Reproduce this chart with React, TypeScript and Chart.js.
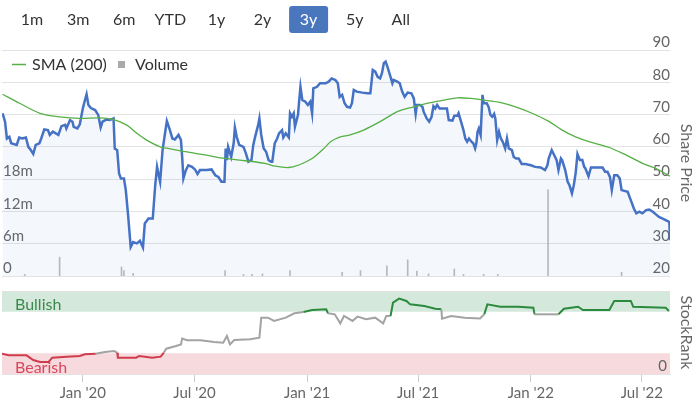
import React, { useEffect, useRef } from 'react';
import { Chart, registerables } from 'chart.js';

Chart.register(...registerables);

const FONT = 'Lato, "Open Sans", sans-serif';

// Range selector
const rangeButtons = ['1m', '3m', '6m', 'YTD', '1y', '2y', '3y', '5y', 'All'];
const selectedRange = '3y';

// X axis (days since 1 Jan 2020)
const xMinDay = -132;
const xMaxDay = 958;
const xTickDays = [0, 182, 366, 547, 731, 912];
const xTickLabels = ["Jan '20", "Jul '20", "Jan '21", "Jul '21", "Jan '22", "Jul '22"];

// Share price
const priceDays = [
  -131, -127, -124, -120, -117, -108, -104, -99, -93, -89, -85, -81, -77, -71, -68, -63, -57, -54, -49, -40,
  -35, -29, -27, -21, -17, -15, -9, -5, 0, 2, 6, 9, 13, 20, 25, 29, 32, 39, 44, 50,
  52, 56, 59, 62, 67, 70, 74, 78, 82, 88, 93, 98, 101, 107, 114, 118, 121, 126, 130, 134,
  137, 142, 146, 150, 156, 160, 162, 164, 168, 172, 178, 183, 187, 191, 202, 210, 216, 221, 226, 231,
  233, 235, 237, 242, 246, 248, 251, 255, 262, 266, 270, 275, 278, 281, 286, 288, 291, 295, 299, 303,
  307, 309, 313, 317, 320, 325, 327, 331, 336, 338, 341, 344, 346, 351, 353, 355, 358, 363, 367, 371,
  374, 376, 382, 387, 396, 401, 406, 412, 416, 419, 423, 427, 431, 436, 439, 442, 447, 456, 464, 469,
  473, 477, 481, 485, 488, 491, 494, 497, 501, 505, 507, 513, 517, 521, 525, 530, 536, 540, 543, 545,
  550, 554, 556, 561, 565, 569, 572, 575, 578, 582, 589, 594, 597, 603, 606, 611, 613, 617, 621, 624,
  627, 630, 634, 637, 640, 642, 644, 646, 649, 652, 654, 659, 662, 665, 668, 671, 673, 676, 679, 682,
  685, 689, 692, 695, 700, 703, 707, 711, 716, 722, 731, 738, 747, 754, 758, 760, 765, 769, 773, 776,
  780, 782, 787, 791, 794, 798, 801, 804, 807, 811, 815, 818, 820, 825, 829, 837, 848, 852, 856, 860,
  863, 867, 872, 876, 879, 889, 892, 896, 899, 903, 908, 913, 919, 924, 930, 935, 940, 946, 951, 956,
  957, 958,
];
const priceValues = [
  70.4, 67.8, 62.6, 63.1, 61.1, 60.6, 62.9, 62.6, 62.9, 60.0, 59.0, 57.8, 60.6, 61.1, 62.6, 65.4, 65.2, 63.7, 64.7, 63.7,
  66.4, 66.8, 65.7, 68.3, 67.8, 66.2, 65.7, 67.0, 72.0, 73.5, 76.3, 73.0, 72.0, 71.4, 69.9, 66.0, 67.8, 68.5, 68.3, 68.8,
  59.5, 59.0, 51.8, 50.2, 50.2, 46.6, 38.3, 29.0, 30.5, 30.1, 30.9, 28.8, 36.3, 37.8, 37.8, 48.1, 53.8, 49.2, 59.0, 64.2,
  68.0, 65.2, 62.6, 62.3, 63.7, 62.1, 56.9, 50.2, 52.8, 54.3, 53.8, 53.0, 51.6, 52.8, 52.8, 53.0, 51.2, 50.7, 49.2, 49.2,
  59.5, 55.9, 60.0, 56.9, 61.1, 66.0, 63.1, 60.6, 60.0, 58.0, 55.4, 55.9, 60.6, 63.1, 66.8, 68.8, 63.7, 59.5, 58.5, 55.9,
  55.4, 55.4, 61.1, 62.6, 64.2, 65.2, 62.9, 64.2, 62.9, 70.4, 69.3, 70.4, 66.2, 69.9, 74.5, 78.6, 74.5, 74.0, 73.0, 74.0,
  70.4, 78.1, 78.6, 79.7, 79.7, 80.2, 81.2, 80.7, 79.7, 75.5, 76.1, 73.5, 72.4, 72.2, 73.5, 77.6, 77.1, 76.8, 76.6, 76.6,
  83.8, 83.3, 81.7, 81.2, 82.8, 85.9, 86.4, 84.8, 82.3, 79.7, 80.7, 80.2, 79.7, 77.1, 75.5, 76.8, 76.6, 75.0, 70.2, 73.0,
  73.0, 72.4, 70.9, 68.8, 67.8, 69.3, 72.6, 71.9, 73.0, 71.9, 71.9, 71.9, 68.3, 68.1, 69.6, 69.6, 70.4, 67.8, 65.2, 62.6,
  61.6, 62.6, 61.6, 61.1, 59.5, 61.1, 64.7, 65.7, 63.7, 76.1, 73.5, 73.5, 72.4, 69.9, 69.3, 70.2, 68.8, 62.1, 64.7, 62.6,
  61.6, 59.5, 62.6, 59.5, 59.0, 56.9, 56.4, 56.4, 54.7, 54.7, 54.3, 53.8, 53.6, 52.8, 54.3, 56.4, 59.0, 57.5, 55.9, 52.8,
  56.4, 55.9, 52.8, 49.2, 48.1, 45.6, 48.1, 51.8, 57.8, 55.9, 55.9, 53.8, 53.3, 50.9, 53.6, 53.6, 53.6, 52.3, 52.3, 50.7,
  46.6, 51.2, 51.2, 50.2, 46.6, 46.1, 44.5, 42.5, 40.9, 39.4, 39.9, 39.4, 40.4, 40.6, 39.9, 39.1, 38.3, 37.8, 37.3, 36.8,
  36.5, 31.1,
];

// 200-day simple moving average
const smaDays = [
  -131, -103, -70, -38, -5, 28, 49, 71, 88, 104, 126, 137, 167, 199, 232, 265, 297, 314, 336, 351,
  374, 396, 404, 420, 436, 458, 485, 513, 540, 567, 589, 611, 633, 654, 682, 706, 733, 761, 782, 804,
  826, 859, 886, 913, 935, 958,
];
const smaValues = [
  76.3, 73.5, 70.4, 69.3, 68.8, 69.0, 68.5, 66.8, 64.2, 62.1, 60.0, 59.6, 58.5, 57.5, 56.4, 55.7, 54.9, 54.0, 53.6, 54.3,
  56.4, 60.0, 61.6, 63.1, 63.7, 65.2, 67.8, 70.9, 72.4, 73.7, 74.5, 75.2, 75.0, 74.5, 73.7, 72.4, 70.4, 67.8, 65.2, 63.1,
  61.6, 59.8, 57.5, 54.9, 53.3, 50.9,
];

// Volume (millions of shares)
const volumeDays = [-95, -38, 63, 67, 82, 232, 262, 276, 293, 338, 423, 453, 496, 530, 545, 564, 606, 621, 654, 677, 759, 879];
const volumeValues = [0.3, 3.5, 1.7, 1.0, 0.5, 1.0, 0.3, 0.3, 0.4, 1.0, 0.7, 1.0, 1.9, 3.0, 0.9, 0.4, 1.3, 0.3, 0.3, 0.3, 16.0, 0.7];

// StockRank
const rankDays = [
  -132, -121, -92, -81, -70, -56, -50, -26, -5, 3, 21, 36, 51, 56, 57, 87, 92, 113, 127, 132,
  136, 152, 160, 162, 170, 192, 214, 229, 235, 240, 247, 273, 288, 291, 302, 312, 331, 345, 360, 374,
  397, 400, 411, 420, 426, 440, 448, 462, 477, 490, 495, 502, 506, 516, 528, 534, 557, 575, 585, 586,
  601, 623, 648, 655, 660, 681, 710, 735, 737, 776, 785, 808, 816, 859, 867, 894, 898, 951, 956,
];
const rankValues = [
  24.5, 22.5, 22.5, 16.9, 14.5, 14.5, 19.7, 20.9, 21.7, 23.7, 24.5, 26.5, 27.7, 25.7, 19.7, 19.7, 21.7, 19.7, 20.9, 25.7,
  30.5, 33.7, 35.7, 42.6, 40.6, 40.6, 38.6, 37.8, 45.8, 35.7, 41.0, 41.8, 43.8, 67.9, 67.9, 63.9, 67.9, 73.1, 74.7, 77.1,
  77.9, 73.1, 71.9, 61.0, 69.9, 63.9, 69.1, 65.9, 67.9, 61.0, 69.9, 69.9, 85.9, 90.8, 88.0, 83.9, 81.9, 78.7, 77.9, 66.7,
  69.9, 67.9, 67.0, 71.9, 83.9, 81.1, 81.1, 79.9, 71.9, 71.9, 78.7, 81.1, 77.1, 77.1, 88.0, 88.0, 81.1, 79.9, 75.9,
];

const rankBands = [
  { from: 75, to: 100, label: 'Bullish', fill: '#d4e9dc', text: '#3b8a4a' },
  { from: 0, to: 25, label: 'Bearish', fill: '#f6dadd', text: '#d9475c' },
];

const zoneColor = (v: number) => (v < 25 ? '#d03c4b' : v < 75 ? '#a3a3a3' : '#2b8a3e');

const topDecor = {
  id: 'topDecor',
  afterDraw(chart: any) {
    const ctx = chart.ctx as CanvasRenderingContext2D;
    ctx.save();
    ctx.font = `16px ${FONT}`;
    ctx.textBaseline = 'middle';
    ctx.textAlign = 'center';
    rangeButtons.forEach((b, i) => {
      const cx = 32 + i * 46.1;
      if (b === selectedRange) {
        ctx.fillStyle = '#4a76bd';
        ctx.beginPath();
        (ctx as any).roundRect(cx - 19.5, 6, 39, 27, 3);
        ctx.fill();
        ctx.fillStyle = '#ffffff';
      } else {
        ctx.fillStyle = '#333333';
      }
      ctx.fillText(b, cx, 20);
    });
    const ds = chart.data.datasets;
    // legend: SMA
    ctx.strokeStyle = ds[1].borderColor;
    ctx.lineWidth = 1.5;
    ctx.beginPath();
    ctx.moveTo(12, 64.5);
    ctx.lineTo(26, 64.5);
    ctx.stroke();
    ctx.textAlign = 'left';
    ctx.fillStyle = '#333333';
    ctx.fillText(ds[1].label, 32, 65);
    // legend: Volume
    ctx.fillStyle = '#aaaaaa';
    ctx.fillRect(118, 61, 7, 7);
    ctx.fillStyle = '#333333';
    ctx.fillText(ds[2].label, 135, 65);
    ctx.restore();
  },
};

const bandsPlugin = {
  id: 'rankBands',
  beforeDraw(chart: any) {
    const ctx = chart.ctx as CanvasRenderingContext2D;
    const { left, right } = chart.chartArea;
    const ys = chart.scales.rank;
    ctx.save();
    rankBands.forEach((b) => {
      const y1 = ys.getPixelForValue(b.to);
      const y2 = ys.getPixelForValue(b.from);
      ctx.fillStyle = b.fill;
      ctx.fillRect(left, y1, right - left, y2 - y1);
      ctx.fillStyle = b.text;
      ctx.font = `16px ${FONT}`;
      ctx.textBaseline = 'alphabetic';
      ctx.textAlign = 'left';
      ctx.fillText(b.label, left + 13, y2 - 1.5);
    });
    ctx.restore();
  },
};

export default function App() {
  const topRef = useRef<HTMLCanvasElement>(null);
  const botRef = useRef<HTMLCanvasElement>(null);

  useEffect(() => {
    const tickFont = { family: FONT, size: 15 };
    const titleFont = { family: FONT, size: 16 };
    const priceData = priceDays.map((d, i) => ({ x: d, y: priceValues[i] }));
    const smaData = smaDays.map((d, i) => ({ x: d, y: smaValues[i] }));
    const volData = volumeDays.map((d, i) => ({ x: d, y: volumeValues[i] }));
    const rankData = rankDays.map((d, i) => ({ x: d, y: rankValues[i] }));

    const top = new Chart(topRef.current!, {
      type: 'line',
      data: {
        datasets: [
          {
            type: 'line', label: 'Price', data: priceData, yAxisID: 'price',
            borderColor: '#4572c4', borderWidth: 2.5, pointRadius: 0, tension: 0,
            fill: 'start', backgroundColor: 'rgba(69,114,196,0.06)', order: 1,
          },
          {
            type: 'line', label: 'SMA (200)', data: smaData, yAxisID: 'price',
            borderColor: '#55b045', borderWidth: 1.3, pointRadius: 0, tension: 0.3, fill: false, order: 0,
          },
          {
            type: 'bar', label: 'Volume', data: volData, yAxisID: 'volume',
            backgroundColor: '#bdbdbd', barThickness: 1, order: 2,
          } as any,
        ],
      },
      options: {
        responsive: false,
        animation: false,
        devicePixelRatio: 1,
        layout: { padding: { top: 50, bottom: 10, left: 0, right: 0 } },
        plugins: { legend: { display: false }, tooltip: { enabled: false } },
        scales: {
          x: { type: 'linear', min: xMinDay, max: xMaxDay, display: false, offset: false },
          volume: {
            type: 'linear', position: 'left', min: 0, max: 42,
            grid: { display: false }, border: { display: false },
            ticks: {
              mirror: true, padding: 1, labelOffset: -7.5, stepSize: 6, color: '#666666', font: tickFont,
              callback: (v: any) => (v > 18 ? '' : v === 0 ? '0' : `${v}m`),
            },
            afterFit: (s: any) => { s.width = 2; s.paddingTop = 0; s.paddingBottom = 0; },
          },
          price: {
            type: 'linear', position: 'right', min: 20, max: 90,
            grid: { color: '#e3e3e3', drawTicks: false }, border: { display: false },
            ticks: { mirror: true, padding: 0, labelOffset: -7.5, stepSize: 10, color: '#666666', font: tickFont },
            title: { display: true, text: 'Share Price', color: '#666666', font: titleFont, padding: { top: 4, bottom: 0 } },
            afterFit: (s: any) => { s.width = 30; s.paddingTop = 0; s.paddingBottom = 0; },
          },
        },
      } as any,
      plugins: [topDecor],
    });

    const bottom = new Chart(botRef.current!, {
      type: 'line',
      data: {
        datasets: [
          {
            label: 'StockRank', data: rankData, yAxisID: 'rank',
            borderColor: '#a3a3a3', borderWidth: 2, pointRadius: 0, tension: 0, fill: false,
            segment: { borderColor: (c: any) => zoneColor((c.p0.parsed.y + c.p1.parsed.y) / 2) },
          },
        ],
      },
      options: {
        responsive: false,
        animation: false,
        devicePixelRatio: 1,
        layout: { padding: { top: 9, bottom: 0, left: 2, right: 0 } },
        plugins: { legend: { display: false }, tooltip: { enabled: false } },
        scales: {
          x: {
            type: 'linear', position: 'bottom', min: xMinDay, max: xMaxDay, offset: false,
            grid: { drawOnChartArea: false, drawTicks: true, tickLength: 8, color: '#cccccc' },
            border: { display: true, color: '#e3e3e3' },
            ticks: {
              autoSkip: false, maxRotation: 0, padding: 2, color: '#666666', font: tickFont,
              callback: (v: any) => { const i = xTickDays.indexOf(v); return i >= 0 ? xTickLabels[i] : ''; },
            },
            afterBuildTicks: (s: any) => { s.ticks = xTickDays.map((v) => ({ value: v })); },
            afterFit: (s: any) => { s.height = 24; s.paddingLeft = 0; s.paddingRight = 0; },
          },
          rank: {
            type: 'linear', position: 'right', min: 0, max: 100,
            grid: { color: '#e3e3e3', drawTicks: false }, border: { display: false },
            ticks: {
              mirror: true, padding: -3, labelOffset: -8, color: '#666666', font: tickFont,
              callback: (v: any) => (v === 0 ? '0' : ''),
            },
            afterBuildTicks: (s: any) => { s.ticks = [{ value: 0 }, { value: 100 }]; },
            title: { display: true, text: 'StockRank', color: '#666666', font: titleFont, padding: { top: 4, bottom: 0 } },
            afterFit: (s: any) => { s.width = 30; s.paddingTop = 0; s.paddingBottom = 0; },
          },
        },
      } as any,
      plugins: [bandsPlugin],
    });

    return () => { top.destroy(); bottom.destroy(); };
  }, []);

  return (
    <div style={{ position: 'absolute', left: 0, top: 0, width: 700, height: 398, background: '#ffffff' }}>
      <canvas ref={topRef} width={700} height={286} style={{ position: 'absolute', left: 0, top: 0 }} />
      <canvas ref={botRef} width={700} height={116} style={{ position: 'absolute', left: 0, top: 282 }} />
    </div>
  );
}
